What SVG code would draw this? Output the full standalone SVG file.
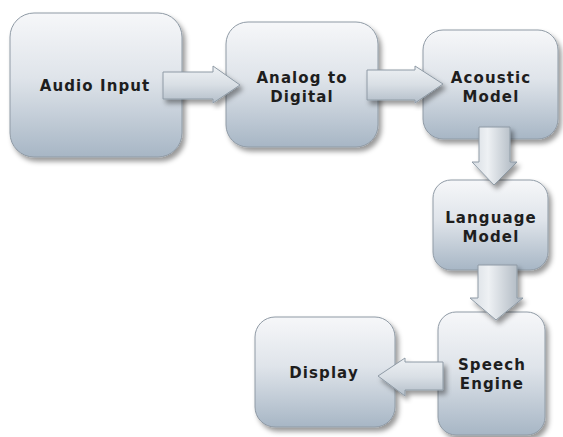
<svg xmlns="http://www.w3.org/2000/svg" width="563" height="437" viewBox="0 0 563 437">
<defs>
<linearGradient id="boxg" x1="0" y1="0" x2="0" y2="1">
<stop offset="0" stop-color="#f6f7f9"/>
<stop offset="0.45" stop-color="#dfe4ea"/>
<stop offset="1" stop-color="#a7b6c5"/>
</linearGradient>
<linearGradient id="arrh" x1="0" y1="0" x2="0" y2="1">
<stop offset="0" stop-color="#eef1f4"/>
<stop offset="0.5" stop-color="#d9dfe5"/>
<stop offset="1" stop-color="#b3bec9"/>
</linearGradient>
<linearGradient id="arrv" x1="0" y1="0" x2="1" y2="0">
<stop offset="0" stop-color="#d6dce2"/>
<stop offset="0.35" stop-color="#eef1f4"/>
<stop offset="1" stop-color="#a9b3bd"/>
</linearGradient>
<filter id="sh" x="-20%" y="-20%" width="140%" height="140%">
<feDropShadow dx="3" dy="4" stdDeviation="2.5" flood-color="#000" flood-opacity="0.4"/>
</filter>
</defs>
<style>
.box{fill:url(#boxg);stroke:#8f9aa5;stroke-width:1;filter:url(#sh)}
.lbl{font-family:"DejaVu Sans",Verdana,sans-serif;font-weight:bold;font-size:15px;letter-spacing:1.1px;fill:#1e1e1e;text-anchor:middle}
.ah{fill:url(#arrh);stroke:#8e9aa5;stroke-width:1;filter:url(#sh)}
.av{fill:url(#arrv);stroke:#8e9aa5;stroke-width:1;filter:url(#sh)}
</style>
<rect width="563" height="437" fill="#ffffff"/>
<g id="audio-input">
<rect class="box" x="10" y="13" width="172" height="144" rx="24"/>
<text class="lbl" x="95" y="91">Audio Input</text>
</g>
<g id="analog-to-digital">
<rect class="box" x="226" y="22" width="152" height="125" rx="22"/>
<text class="lbl" x="302" y="83">Analog to</text>
<text class="lbl" x="302" y="102">Digital</text>
</g>
<g id="acoustic-model">
<rect class="box" x="423" y="30" width="135" height="109" rx="20"/>
<text class="lbl" x="491" y="83">Acoustic</text>
<text class="lbl" x="491" y="102">Model</text>
</g>
<g id="language-model">
<rect class="box" x="433" y="180" width="115" height="90" rx="18"/>
<text class="lbl" x="491" y="223">Language</text>
<text class="lbl" x="491" y="242">Model</text>
</g>
<g id="speech-engine">
<rect class="box" x="438" y="312" width="107" height="123" rx="18"/>
<text class="lbl" x="492" y="370">Speech</text>
<text class="lbl" x="492" y="389">Engine</text>
</g>
<g id="display">
<rect class="box" x="255" y="317" width="140" height="110" rx="20"/>
<text class="lbl" x="324" y="378">Display</text>
</g>
<g id="connectors">
<polygon class="ah" points="163,72 213,72 213,66 240,85 213,103 213,99 163,99"/>
<polygon class="ah" points="367,70 415,70 415,66 443,84 415,103 415,100 367,100"/>
<polygon class="av" points="479,127 510,127 510,162 517,162 494,185 472,162 479,162"/>
<polygon class="av" points="478,265 517,265 517,298 523,298 496,320 470,298 478,298"/>
<polygon class="ah" points="443,362 405,362 405,358 378,376 405,396 405,390 443,390"/>
</g>
</svg>
